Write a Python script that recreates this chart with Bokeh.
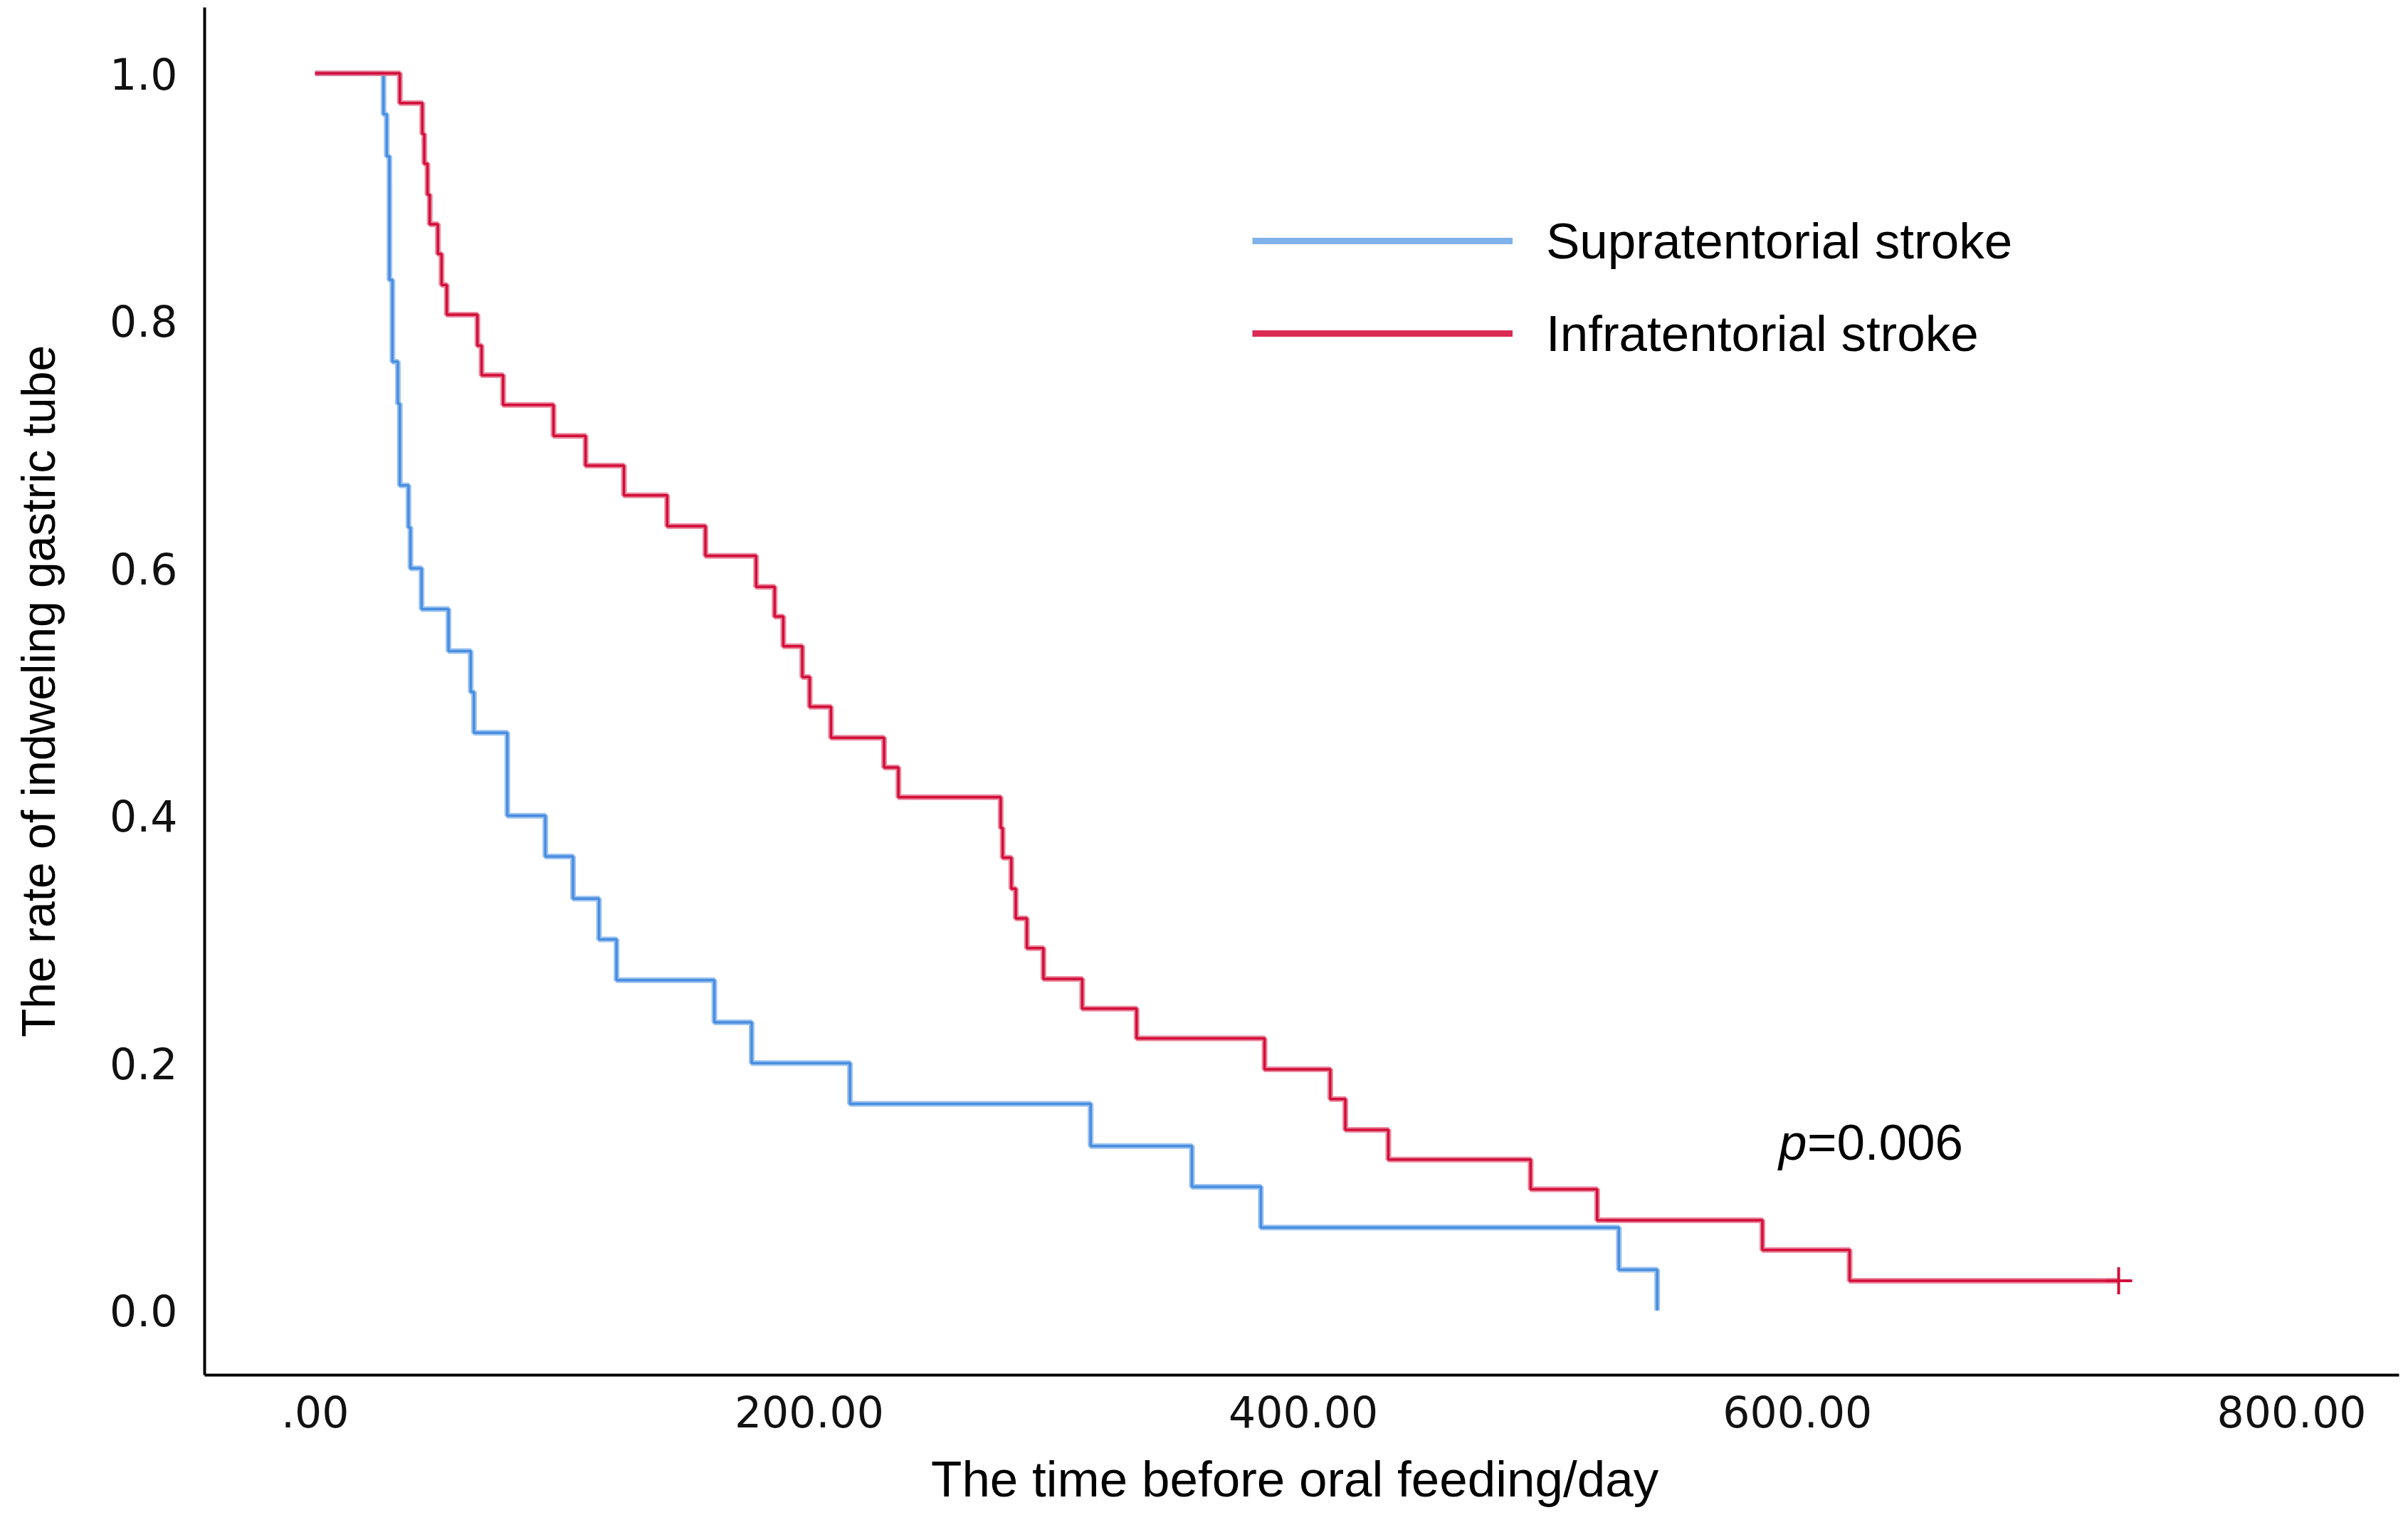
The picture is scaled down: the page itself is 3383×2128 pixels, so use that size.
from bokeh.plotting import figure
from bokeh.models import Range1d, FixedTicker, Legend, LegendItem, Label
from bokeh.embed import file_html
from bokeh.resources import INLINE

# ---- data (Kaplan-Meier steps) ----
supra_t = [0.0, 27.7, 29.0, 30.1, 30.1, 30.1, 31.3, 31.3, 33.5, 34.3, 34.3,
           37.8, 38.6, 43.1, 54.0, 63.0, 64.3, 77.8, 77.8, 93.2, 104.4,
           114.9, 122.0, 161.6, 176.7, 216.5, 313.9, 354.9, 382.8, 527.7, 543.2]
supra_s = [1.000, 0.967, 0.933, 0.900, 0.867, 0.833, 0.800, 0.767, 0.733, 0.700, 0.667,
           0.633, 0.600, 0.567, 0.533, 0.500, 0.467, 0.433, 0.400, 0.367, 0.333,
           0.300, 0.267, 0.233, 0.200, 0.167, 0.133, 0.100, 0.067, 0.033, 0.000]

infra_t = [0.0, 34.3, 43.4, 44.2, 45.5, 46.4, 49.7, 51.2, 53.3, 65.7, 67.4,
           76.1, 96.5, 109.5, 125.0, 142.5, 158.0, 178.5, 186.0, 189.5, 197.2,
           200.2, 208.8, 230.3, 236.1, 277.5, 278.3, 281.8, 283.6, 288.1, 294.8,
           310.5, 332.5, 384.3, 410.9, 417.0, 434.4, 492.0, 518.9, 585.8, 621.1, 730.0]
infra_s = [1.000, 0.976, 0.951, 0.927, 0.902, 0.878, 0.854, 0.829, 0.805, 0.780, 0.756,
           0.732, 0.707, 0.683, 0.659, 0.634, 0.610, 0.585, 0.561, 0.537, 0.512,
           0.488, 0.463, 0.439, 0.415, 0.390, 0.366, 0.341, 0.317, 0.293, 0.268,
           0.244, 0.220, 0.195, 0.171, 0.146, 0.122, 0.098, 0.073, 0.049, 0.024, 0.024]

infra_censor_t = [730.0]
infra_censor_s = [0.024]

x_ticks = [0, 200, 400, 600, 800]
x_tick_labels = [".00", "200.00", "400.00", "600.00", "800.00"]
y_ticks = [0.0, 0.2, 0.4, 0.6, 0.8, 1.0]
y_tick_labels = ["0.0", "0.2", "0.4", "0.6", "0.8", "1.0"]

series_names = ["Supratentorial stroke", "Infratentorial stroke"]
p_text = "=0.006"

# ---- styling ----
BLUE_CORE = "#4a8de0"
BLUE_HALO = "#9cc4f0"
RED_CORE = "#d10f3b"
RED_HALO = "#e8738c"
SANS = "Liberation Sans"
TICKFONT = "DejaVu Sans"
NAN = float("nan")

p = figure(width=3375, height=2120, output_backend="svg", toolbar_location=None,
           x_range=Range1d(-44.7, 843.5), y_range=Range1d(-0.0522, 1.0533),
           min_border_left=287, min_border_right=5, min_border_top=10,
           min_border_bottom=189)
p.outline_line_color = None
p.grid.visible = False
p.background_fill_color = "white"
p.border_fill_color = "white"

for ax in (p.xaxis[0], p.yaxis[0]):
    ax.axis_line_width = 4
    ax.axis_line_color = "black"
    ax.major_tick_line_color = None
    ax.minor_tick_line_color = None
    ax.major_label_text_font = TICKFONT
    ax.major_label_text_font_size = "60px"
    ax.major_label_text_color = "#111111"
    ax.axis_label_text_font = SANS
    ax.axis_label_text_font_style = "normal"
    ax.axis_label_text_color = "black"

p.xaxis.ticker = FixedTicker(ticks=x_ticks)
p.xaxis.major_label_overrides = {t: l for t, l in zip(x_ticks, x_tick_labels)}
p.yaxis.ticker = FixedTicker(ticks=y_ticks)
p.yaxis.major_label_overrides = {t: l for t, l in zip(y_ticks, y_tick_labels)}

p.xaxis.major_label_standoff = 22
p.yaxis.major_label_standoff = 32
p.xaxis.axis_label = "The  time before oral feeding/day"
p.xaxis.axis_label_text_font_size = "71px"
p.xaxis.axis_label_standoff = 30
p.xaxis.axis_label_text_line_height = 0.9
p.yaxis.axis_label = "The rate of indweling gastric tube"
p.yaxis.axis_label_text_font_size = "66px"
p.yaxis.axis_label_standoff = 60

# curves
p.step(supra_t, supra_s, mode="after", line_width=8, line_color=BLUE_HALO)
p.step(supra_t, supra_s, mode="after", line_width=3.5, line_color=BLUE_CORE)
p.step(infra_t, infra_s, mode="after", line_width=8, line_color=RED_HALO, line_alpha=0.85)
p.step(infra_t, infra_s, mode="after", line_width=3.5, line_color=RED_CORE)
p.scatter(infra_censor_t, infra_censor_s, marker="cross", size=38, line_width=4,
          line_color=RED_CORE)

# legend with dedicated (invisible-data) renderers for thicker legend lines
r_leg_b = p.line(x=[NAN], y=[NAN], line_width=9, line_color="#7fb2ea")
r_leg_r = p.line(x=[NAN], y=[NAN], line_width=9, line_color="#dc2a55")
legend = Legend(items=[LegendItem(label=series_names[0], renderers=[r_leg_b]),
                       LegendItem(label=series_names[1], renderers=[r_leg_r])],
                location=(1472, 1418), orientation="vertical",
                glyph_width=366, glyph_height=90, label_height=90,
                label_standoff=47, spacing=40, padding=0, margin=0,
                border_line_color=None, background_fill_alpha=0,
                label_text_font=SANS, label_text_font_size="71px",
                label_text_color="black")
p.add_layout(legend, "center")

# p-value annotation
p.add_layout(Label(x=592.4, y=0.136, text="p", text_font=SANS,
                   text_font_style="italic", text_font_size="71px",
                   text_color="black", text_baseline="alphabetic"))
p.add_layout(Label(x=592.4, y=0.136, x_offset=40, text=p_text, text_font=SANS,
                   text_font_size="71px", text_color="black",
                   text_baseline="alphabetic"))

open("out.html", "w").write(file_html(p, INLINE))
